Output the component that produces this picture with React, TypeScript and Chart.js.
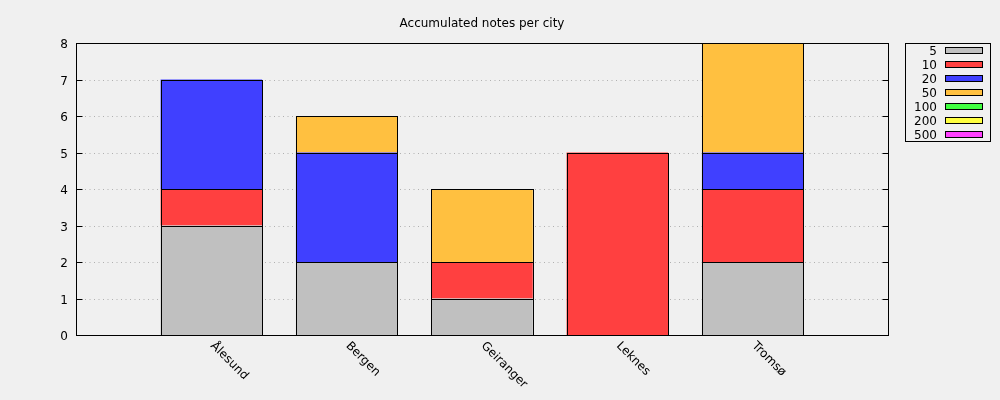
import React, { useEffect, useRef } from "react";
import { Chart, registerables } from "chart.js";

Chart.register(...registerables);

const chartTitle = "Accumulated notes per city";
const categories = ["Ålesund", "Bergen", "Geiranger", "Leknes", "Tromsø"];
const seriesNames = ["5", "10", "20", "50", "100", "200", "500"];
const notes5 = [3, 2, 1, 0, 2];
const notes10 = [1, 0, 1, 5, 2];
const notes20 = [3, 3, 0, 0, 1];
const notes50 = [0, 1, 2, 0, 3];
const notes100 = [0, 0, 0, 0, 0];
const notes200 = [0, 0, 0, 0, 0];
const notes500 = [0, 0, 0, 0, 0];
const seriesValues = [notes5, notes10, notes20, notes50, notes100, notes200, notes500];
const seriesColors = ["#c0c0c0", "#ff4040", "#4040ff", "#ffc040", "#40ff40", "#ffff40", "#ff40ff"];
const yTickValues = [0, 1, 2, 3, 4, 5, 6, 7, 8];

const FONT = "'DejaVu Sans', sans-serif";

const decorPlugin = {
  id: "decor",
  beforeDatasetsDraw(chart: any) {
    const { ctx, chartArea } = chart;
    const y = chart.scales.y;
    ctx.save();
    ctx.strokeStyle = "#b0b0b0";
    ctx.lineWidth = 1;
    ctx.setLineDash([1, 3.5]);
    yTickValues.forEach((v) => {
      if (v === yTickValues[0] || v === yTickValues[yTickValues.length - 1]) return;
      const py = Math.round(y.getPixelForValue(v)) + 0.5;
      ctx.beginPath();
      ctx.moveTo(chartArea.left, py);
      ctx.lineTo(chartArea.right, py);
      ctx.stroke();
    });
    ctx.restore();
  },
  afterDatasetsDraw(chart: any) {
    const { ctx, chartArea } = chart;
    const y = chart.scales.y;
    const x = chart.scales.x;
    ctx.save();
    ctx.strokeStyle = "#000";
    ctx.lineWidth = 1;
    ctx.setLineDash([]);

    // crisp bar outlines from the bar elements
    chart.data.datasets.forEach((ds: any, di: number) => {
      const meta = chart.getDatasetMeta(di);
      meta.data.forEach((el: any, i: number) => {
        const v = ds.data[i] && ds.data[i].y;
        if (v === null || v === undefined) return;
        const left = Math.round(el.x - el.width / 2) + 0.5;
        const right = Math.round(el.x + el.width / 2) + 0.5;
        const top = Math.round(Math.min(el.y, el.base)) + 0.5;
        const bottom = Math.round(Math.max(el.y, el.base)) + 0.5;
        ctx.strokeRect(left, top, right - left, bottom - top);
      });
    });

    const L = Math.round(chartArea.left) + 0.5;
    const R = Math.round(chartArea.right) + 0.5;
    const T = Math.round(chartArea.top) + 0.5;
    const B = Math.round(chartArea.bottom) + 0.5;
    ctx.strokeRect(L, T, R - L, B - T);
    ctx.fillStyle = "#000";
    ctx.font = `12px ${FONT}`;
    yTickValues.forEach((v) => {
      const py = Math.round(y.getPixelForValue(v)) + 0.5;
      ctx.beginPath();
      ctx.moveTo(L, py);
      ctx.lineTo(L + 6, py);
      ctx.moveTo(R, py);
      ctx.lineTo(R - 6, py);
      ctx.stroke();
      ctx.textAlign = "right";
      ctx.textBaseline = "alphabetic";
      ctx.fillText(String(v), chartArea.left - 8, Math.round(y.getPixelForValue(v)) + 4.5);
    });

    // title
    ctx.textAlign = "center";
    ctx.textBaseline = "alphabetic";
    ctx.fillText(chartTitle, (chartArea.left + chartArea.right) / 2, 27);

    // x labels rotated
    categories.forEach((c, i) => {
      const cx = x.getPixelForValue(i);
      ctx.save();
      ctx.translate(cx + 1, chartArea.bottom + 9);
      ctx.rotate(Math.PI / 4);
      ctx.textAlign = "left";
      ctx.textBaseline = "middle";
      ctx.fillText(c, 0, 0);
      ctx.restore();
    });

    // legend
    ctx.strokeRect(905.5, 43.5, 85, 98);
    seriesNames.forEach((name, i) => {
      const cy = 50 + i * 14;
      ctx.fillStyle = "#000";
      ctx.textAlign = "right";
      ctx.textBaseline = "alphabetic";
      ctx.fillText(name, 937, cy + 4.5);
      ctx.fillStyle = seriesColors[i];
      ctx.fillRect(945, cy - 3, 37, 7);
      ctx.strokeStyle = "#000";
      ctx.strokeRect(945.5, cy - 3 + 0.5, 37, 6);
    });
    ctx.restore();
  },
};

export default function App() {
  const ref = useRef<HTMLCanvasElement | null>(null);
  useEffect(() => {
    document.body.style.margin = "0";
    document.body.style.background = "#f0f0f0";
    document.body.style.overflow = "hidden";
    const canvas = ref.current;
    if (!canvas) return;
    const chart = new Chart(canvas, {
      type: "bar",
      data: {
        datasets: seriesNames.map((name, si) => ({
          label: name,
          data: seriesValues[si].map((v, i) => ({ x: i, y: v === 0 ? null : v })),
          backgroundColor: seriesColors[si],
          borderWidth: 0,
          categoryPercentage: 1,
          barPercentage: 0.75,
        })),
      },
      options: {
        animation: false,
        responsive: false,
        events: [],
        layout: { padding: { top: 43, right: 112, bottom: 65, left: 0 } },
        plugins: {
          legend: { display: false },
          title: { display: false },
          tooltip: { enabled: false },
        },
        scales: {
          x: {
            type: "linear",
            min: -1,
            max: categories.length,
            stacked: true,
            display: false,
            offset: false,
          },
          y: {
            type: "linear",
            min: yTickValues[0],
            max: yTickValues[yTickValues.length - 1],
            stacked: true,
            grid: { display: false, drawTicks: false },
            border: { display: false },
            ticks: { display: false, stepSize: 1 },
            afterFit: (s: any) => {
              s.width = 76;
            },
          },
        },
      },
      plugins: [decorPlugin],
    } as any);
    return () => chart.destroy();
  }, []);
  return (
    <div style={{ width: 1000, height: 400, background: "#f0f0f0" }}>
      <canvas ref={ref} width={1000} height={400} style={{ display: "block" }} />
    </div>
  );
}
